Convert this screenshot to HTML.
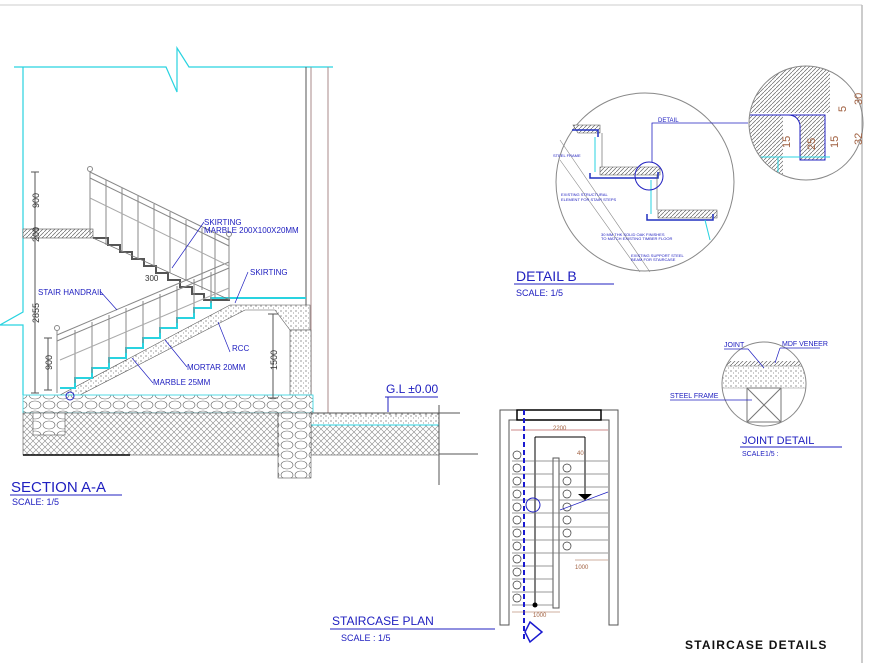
<!DOCTYPE html>
<html><head><meta charset="utf-8"><style>
body{margin:0;background:#fff;width:869px;height:663px;overflow:hidden}
svg{display:block}
text{font-family:"Liberation Sans",sans-serif}
</style></head><body>
<svg width="869" height="663" viewBox="0 0 869 663" xmlns="http://www.w3.org/2000/svg">
<defs>
<pattern id="hx" width="6" height="6" patternUnits="userSpaceOnUse"><rect width="6" height="6" fill="#fff"/><path d="M0 6L6 0M0 0L6 6" stroke="#888" stroke-width="0.6"/></pattern>
<pattern id="hd" width="4" height="4" patternUnits="userSpaceOnUse"><rect width="4" height="4" fill="#fff"/><path d="M0 4L4 0" stroke="#666" stroke-width="0.7"/></pattern>
<pattern id="dots" width="5" height="5" patternUnits="userSpaceOnUse"><rect width="5" height="5" fill="#fff"/><circle cx="1" cy="1" r="0.6" fill="#555"/><circle cx="3.5" cy="3" r="0.5" fill="#777"/></pattern>
<pattern id="stone" width="14" height="10" patternUnits="userSpaceOnUse"><rect width="14" height="10" fill="#fff"/><ellipse cx="7" cy="5" rx="6" ry="4" fill="none" stroke="#666" stroke-width="0.6"/></pattern>
</defs>
<line x1="0" y1="5" x2="862" y2="5" stroke="#ccc"/>
<line x1="862" y1="5" x2="862" y2="663" stroke="#bbb" stroke-width="1.5"/>

<g fill="none" stroke="#29d3e0" stroke-width="1.2">
<path d="M14 67H166L177 92L177 48L189 67H333"/>
<path d="M23 67V312L0 325H23V395"/>
</g>
<line x1="306" y1="67" x2="306" y2="305" stroke="#555"/>
<line x1="311" y1="67" x2="311" y2="415" stroke="#a88"/>
<line x1="328" y1="67" x2="328" y2="415" stroke="#a88"/>
<rect x="23" y="229" width="70" height="9" fill="url(#hd)" stroke="#555" stroke-width="0.6"/>
<path d="M60 395L230 305H310V330H290L275 310H245L80 395Z" fill="url(#dots)" stroke="#555" stroke-width="0.6"/>
<rect x="290" y="330" width="21" height="65" fill="url(#dots)" stroke="#555" stroke-width="0.6"/>
<path d="M60 388H75V378H92V368H109V358H126V348H143V338H160V328H177V318H194V308H211V298H230H306" fill="none" stroke="#29d3e0" stroke-width="2"/>
<path d="M93 238H108V245H120V252H132V259H144V266H156V273H168V280H180V287H192V294H204V300H230" fill="none" stroke="#555" stroke-width="2"/>
<line x1="93" y1="238" x2="230" y2="300" stroke="#777" stroke-width="0.8"/>
<g stroke="#888" fill="none" stroke-width="1">
<line x1="90" y1="172" x2="229" y2="240"/><line x1="90" y1="178" x2="229" y2="246"/>
<line x1="90" y1="172" x2="90" y2="235"/><line x1="229" y1="237" x2="229" y2="300"/>
<line x1="57" y1="335" x2="229" y2="262"/><line x1="57" y1="341" x2="229" y2="268"/>
<line x1="57" y1="330" x2="57" y2="393"/>
<path d="M106 180V245M122 188V252M138 196V259M154 204V266M170 212V273M186 220V280M202 228V290M215 234V298"/>
<path d="M75 330V383M92 322V373M109 315V363M126 308V353M143 301V343M160 294V333M177 286V323M194 279V313M211 272V303"/>
<line x1="60" y1="360" x2="229" y2="288" stroke="#aaa"/>
<line x1="90" y1="198" x2="229" y2="266" stroke="#aaa"/>
</g>
<circle cx="90" cy="169" r="2.5" fill="none" stroke="#888"/><circle cx="229" cy="234" r="2.5" fill="none" stroke="#888"/><circle cx="57" cy="328" r="2.5" fill="none" stroke="#888"/>
<rect x="23" y="395" width="290" height="18" fill="url(#stone)" stroke="#29d3e0" stroke-width="0.8"/>
<rect x="23" y="413" width="255" height="42" fill="url(#hx)" stroke="#555" stroke-width="0.6"/>
<rect x="311" y="413" width="128" height="42" fill="url(#hx)" stroke="#555" stroke-width="0.6"/>
<rect x="311" y="415" width="128" height="10" fill="url(#dots)"/>
<line x1="311" y1="425" x2="439" y2="425" stroke="#29d3e0"/>
<rect x="278" y="413" width="33" height="65" fill="url(#stone)" stroke="#555" stroke-width="0.6"/>
<rect x="33" y="413" width="32" height="22" fill="url(#stone)" stroke="#555" stroke-width="0.6"/>
<line x1="23" y1="455" x2="130" y2="455" stroke="#000" stroke-width="1.5"/>
<line x1="311" y1="413" x2="460" y2="413" stroke="#555"/>
<line x1="439" y1="405" x2="439" y2="485" stroke="#555"/>
<line x1="439" y1="454" x2="478" y2="454" stroke="#555"/>
<line x1="35" y1="172" x2="35" y2="393" stroke="#555"/>
<g stroke="#555"><line x1="31" y1="172" x2="39" y2="172"/><line x1="31" y1="229" x2="39" y2="229"/><line x1="31" y1="238" x2="39" y2="238"/><line x1="31" y1="393" x2="39" y2="393"/>
<line x1="48" y1="338" x2="48" y2="390"/><line x1="44" y1="338" x2="52" y2="338"/><line x1="44" y1="390" x2="52" y2="390"/>
<line x1="273" y1="314" x2="273" y2="398"/><line x1="268" y1="314" x2="278" y2="314"/><line x1="268" y1="398" x2="278" y2="398"/></g>
<g font-size="9" fill="#333">
<text transform="translate(39,208) rotate(-90)">900</text>
<text transform="translate(39,242) rotate(-90)">200</text>
<text transform="translate(39,323) rotate(-90)">2855</text>
<text transform="translate(52,370) rotate(-90)">900</text>
<text transform="translate(277,370) rotate(-90)">1500</text>
<text x="145" y="281" font-size="8">300</text>
</g>
<g font-size="8" fill="#2020c0">
<text x="204" y="225">SKIRTING</text>
<text x="204" y="233">MARBLE  200X100X20MM</text>
<text x="250" y="275">SKIRTING</text>
<text x="38" y="295">STAIR  HANDRAIL</text>
<text x="232" y="351">RCC</text>
<text x="187" y="370">MORTAR  20MM</text>
<text x="153" y="385">MARBLE  25MM</text>
</g>
<g stroke="#2020c0" stroke-width="0.7" fill="none">
<path d="M204 222L172 268M248 272L235 303M100 291L117 310M230 352L218 322M187 367L165 340M153 383L132 358"/>
</g>
<text x="386" y="393" font-size="12" fill="#2020c0">G.L  ±0.00</text>
<path d="M385 397H438M388 397V412" stroke="#2020c0" fill="none"/>
<circle cx="70" cy="396" r="4" fill="none" stroke="#2020c0"/>
<text x="11" y="492" font-size="15" fill="#2020c0">SECTION  A-A</text>
<line x1="10" y1="495" x2="122" y2="495" stroke="#2020c0"/>
<text x="12" y="505" font-size="9" fill="#2020c0">SCALE: 1/5</text>

<g fill="none" stroke="#555">
<path d="M500 410V625H509V420H609V625H618V410Z"/>
<rect x="517" y="410" width="84" height="10" stroke="#000" stroke-width="1.5"/>
<line x1="511" y1="430" x2="608" y2="430" stroke="#c88"/>
<line x1="535" y1="437" x2="585" y2="437" stroke="#000"/><line x1="585" y1="437" x2="585" y2="495" stroke="#000"/><line x1="535" y1="437" x2="535" y2="605" stroke="#000"/>
<rect x="553" y="458" width="6" height="150"/>
</g>
<g stroke="#777" stroke-width="0.8">
<line x1="512" y1="461" x2="608" y2="461"/><line x1="512" y1="474" x2="553" y2="474"/><line x1="512" y1="487" x2="608" y2="487"/><line x1="512" y1="500" x2="553" y2="500"/><line x1="512" y1="513" x2="608" y2="513"/><line x1="512" y1="527" x2="608" y2="527"/><line x1="512" y1="540" x2="608" y2="540"/><line x1="512" y1="553" x2="608" y2="553"/><line x1="512" y1="566" x2="553" y2="566"/><line x1="512" y1="579" x2="553" y2="579"/><line x1="512" y1="592" x2="553" y2="592"/><line x1="512" y1="605" x2="553" y2="605"/>
<line x1="559" y1="474" x2="608" y2="474"/><line x1="559" y1="500" x2="608" y2="500"/>
</g>
<g fill="#fff" stroke="#333" stroke-width="0.7">
<circle cx="517" cy="455" r="4"/><circle cx="517" cy="468" r="4"/><circle cx="517" cy="481" r="4"/><circle cx="517" cy="494" r="4"/><circle cx="517" cy="507" r="4"/><circle cx="517" cy="520" r="4"/><circle cx="517" cy="533" r="4"/><circle cx="517" cy="546" r="4"/><circle cx="517" cy="559" r="4"/><circle cx="517" cy="572" r="4"/><circle cx="517" cy="585" r="4"/><circle cx="517" cy="598" r="4"/>
<circle cx="567" cy="468" r="4"/><circle cx="567" cy="481" r="4"/><circle cx="567" cy="494" r="4"/><circle cx="567" cy="507" r="4"/><circle cx="567" cy="520" r="4"/><circle cx="567" cy="533" r="4"/><circle cx="567" cy="546" r="4"/>
</g>
<line x1="524" y1="410" x2="524" y2="640" stroke="#1a1ad0" stroke-width="2" stroke-dasharray="5,3"/>
<circle cx="533" cy="505" r="7" fill="none" stroke="#2020c0"/>
<path d="M578 494h14l-7 6z" fill="#000"/>
<line x1="560" y1="510" x2="608" y2="492" stroke="#2020c0" stroke-width="0.7"/>
<circle cx="535" cy="605" r="2.5" fill="#000"/>
<path d="M530 622l12 10l-12 10l-5-10z" fill="#fff" stroke="#1a1ad0" stroke-width="1.5"/>
<g font-size="6" fill="#a06040"><text x="553" y="430">2200</text><text x="577" y="455">40</text><text x="575" y="569">1000</text><text x="533" y="617">1000</text></g>
<line x1="575" y1="560" x2="608" y2="560" stroke="#a06040" stroke-width="0.6"/>
<line x1="512" y1="612" x2="560" y2="612" stroke="#a06040" stroke-width="0.6"/>
<text x="332" y="625" font-size="12" fill="#2020c0">STAIRCASE PLAN</text>
<line x1="330" y1="629" x2="495" y2="629" stroke="#2020c0"/>
<text x="341" y="641" font-size="9" fill="#2020c0">SCALE : 1/5</text>

<circle cx="645" cy="182" r="89" fill="none" stroke="#888"/>
<g stroke="#888" stroke-width="0.6"><line x1="560" y1="140" x2="650" y2="272"/><line x1="560" y1="160" x2="640" y2="272"/></g>
<path d="M573 125H600V133H578Z" fill="url(#hd)" stroke="#555" stroke-width="0.6"/>
<path d="M600 167H660V175H600Z" fill="url(#hd)" stroke="#555" stroke-width="0.6"/>
<path d="M658 210H717V218H658Z" fill="url(#hd)" stroke="#555" stroke-width="0.6"/>
<g fill="none" stroke="#2030c0" stroke-width="1.5">
<path d="M590 173V178H658V172"/><path d="M647 214V220H713V214"/><path d="M572 130H598V137"/>
</g>
<g stroke="#29d3e0"><line x1="595" y1="137" x2="595" y2="172"/><line x1="651" y1="180" x2="651" y2="214"/><line x1="705" y1="220" x2="710" y2="240"/></g>
<g stroke="#555" stroke-width="0.6"><line x1="602" y1="133" x2="602" y2="167"/><line x1="657" y1="175" x2="657" y2="210"/></g>
<circle cx="649" cy="176" r="14" fill="none" stroke="#2020c0"/>
<path d="M652 162V123H748" fill="none" stroke="#2020c0" stroke-width="0.8"/>
<text x="658" y="122" font-size="6" fill="#2020c0">DETAIL</text>
<g font-size="4" fill="#2020c0"><text x="553" y="157">STEEL FRAME</text><text x="561" y="196">EXISTING STRUCTURAL</text><text x="561" y="201">ELEMENT FOR STAIR STEPS</text><text x="601" y="236">30 MM THK SOLID OAK FINISHES</text><text x="601" y="240">TO MATCH EXISTING TIMBER FLOOR</text><text x="631" y="257">EXISTING SUPPORT STEEL</text><text x="631" y="261">BEAM FOR STAIRCASE</text></g>
<text x="516" y="281" font-size="14" fill="#2020c0">DETAIL  B</text>
<line x1="514" y1="284" x2="614" y2="284" stroke="#2020c0"/>
<text x="516" y="296" font-size="9" fill="#2020c0">SCALE: 1/5</text>

<clipPath id="c2"><circle cx="806" cy="123" r="57"/></clipPath>
<g clip-path="url(#c2)">
<rect x="740" y="60" width="90" height="53" fill="url(#hd)"/>
<rect x="748" y="115" width="35" height="60" fill="url(#hd)"/>
<path d="M748 115H825V160H800V125Q798 115 788 115" fill="url(#hd)" stroke="#2020c0"/>
<line x1="740" y1="157" x2="830" y2="157" stroke="#29d3e0"/>
<line x1="778" y1="158" x2="778" y2="180" stroke="#29d3e0"/>
</g>
<circle cx="806" cy="123" r="57" fill="none" stroke="#888"/>
<g font-size="11" fill="#a06040"><text transform="translate(862,105) rotate(-90)">30</text><text transform="translate(862,145) rotate(-90)">32</text><text transform="translate(846,112) rotate(-90)">5</text><text transform="translate(790,148) rotate(-90)">15</text><text transform="translate(815,150) rotate(-90)">25</text><text transform="translate(838,148) rotate(-90)">15</text></g>

<clipPath id="c3"><circle cx="764" cy="384" r="42"/></clipPath>
<g clip-path="url(#c3)">
<rect x="720" y="361" width="90" height="5" fill="url(#hd)"/>
<rect x="720" y="366" width="90" height="22" fill="url(#dots)" stroke="#888" stroke-width="0.5"/>
<rect x="747" y="388" width="34" height="34" fill="none" stroke="#777"/>
<path d="M747 388L781 422M781 388L747 422" stroke="#777"/>
</g>
<circle cx="764" cy="384" r="42" fill="none" stroke="#888"/>
<g font-size="7" fill="#2020c0"><text x="724" y="347">JOINT</text><text x="782" y="346">MDF VENEER</text><text x="670" y="398">STEEL FRAME</text></g>
<path d="M724 349H748L764 368M780 348H820M780 348L775 363M670 400H752" stroke="#2020c0" fill="none" stroke-width="0.7"/>
<text x="742" y="444" font-size="11" fill="#2020c0">JOINT DETAIL</text>
<line x1="740" y1="447" x2="842" y2="447" stroke="#2020c0"/>
<text x="742" y="456" font-size="7" fill="#2020c0">SCALE1/5 :</text>

<text x="685" y="649" font-size="12" font-weight="bold" fill="#111" letter-spacing="1.2">STAIRCASE DETAILS</text>
</svg>
</body></html>
